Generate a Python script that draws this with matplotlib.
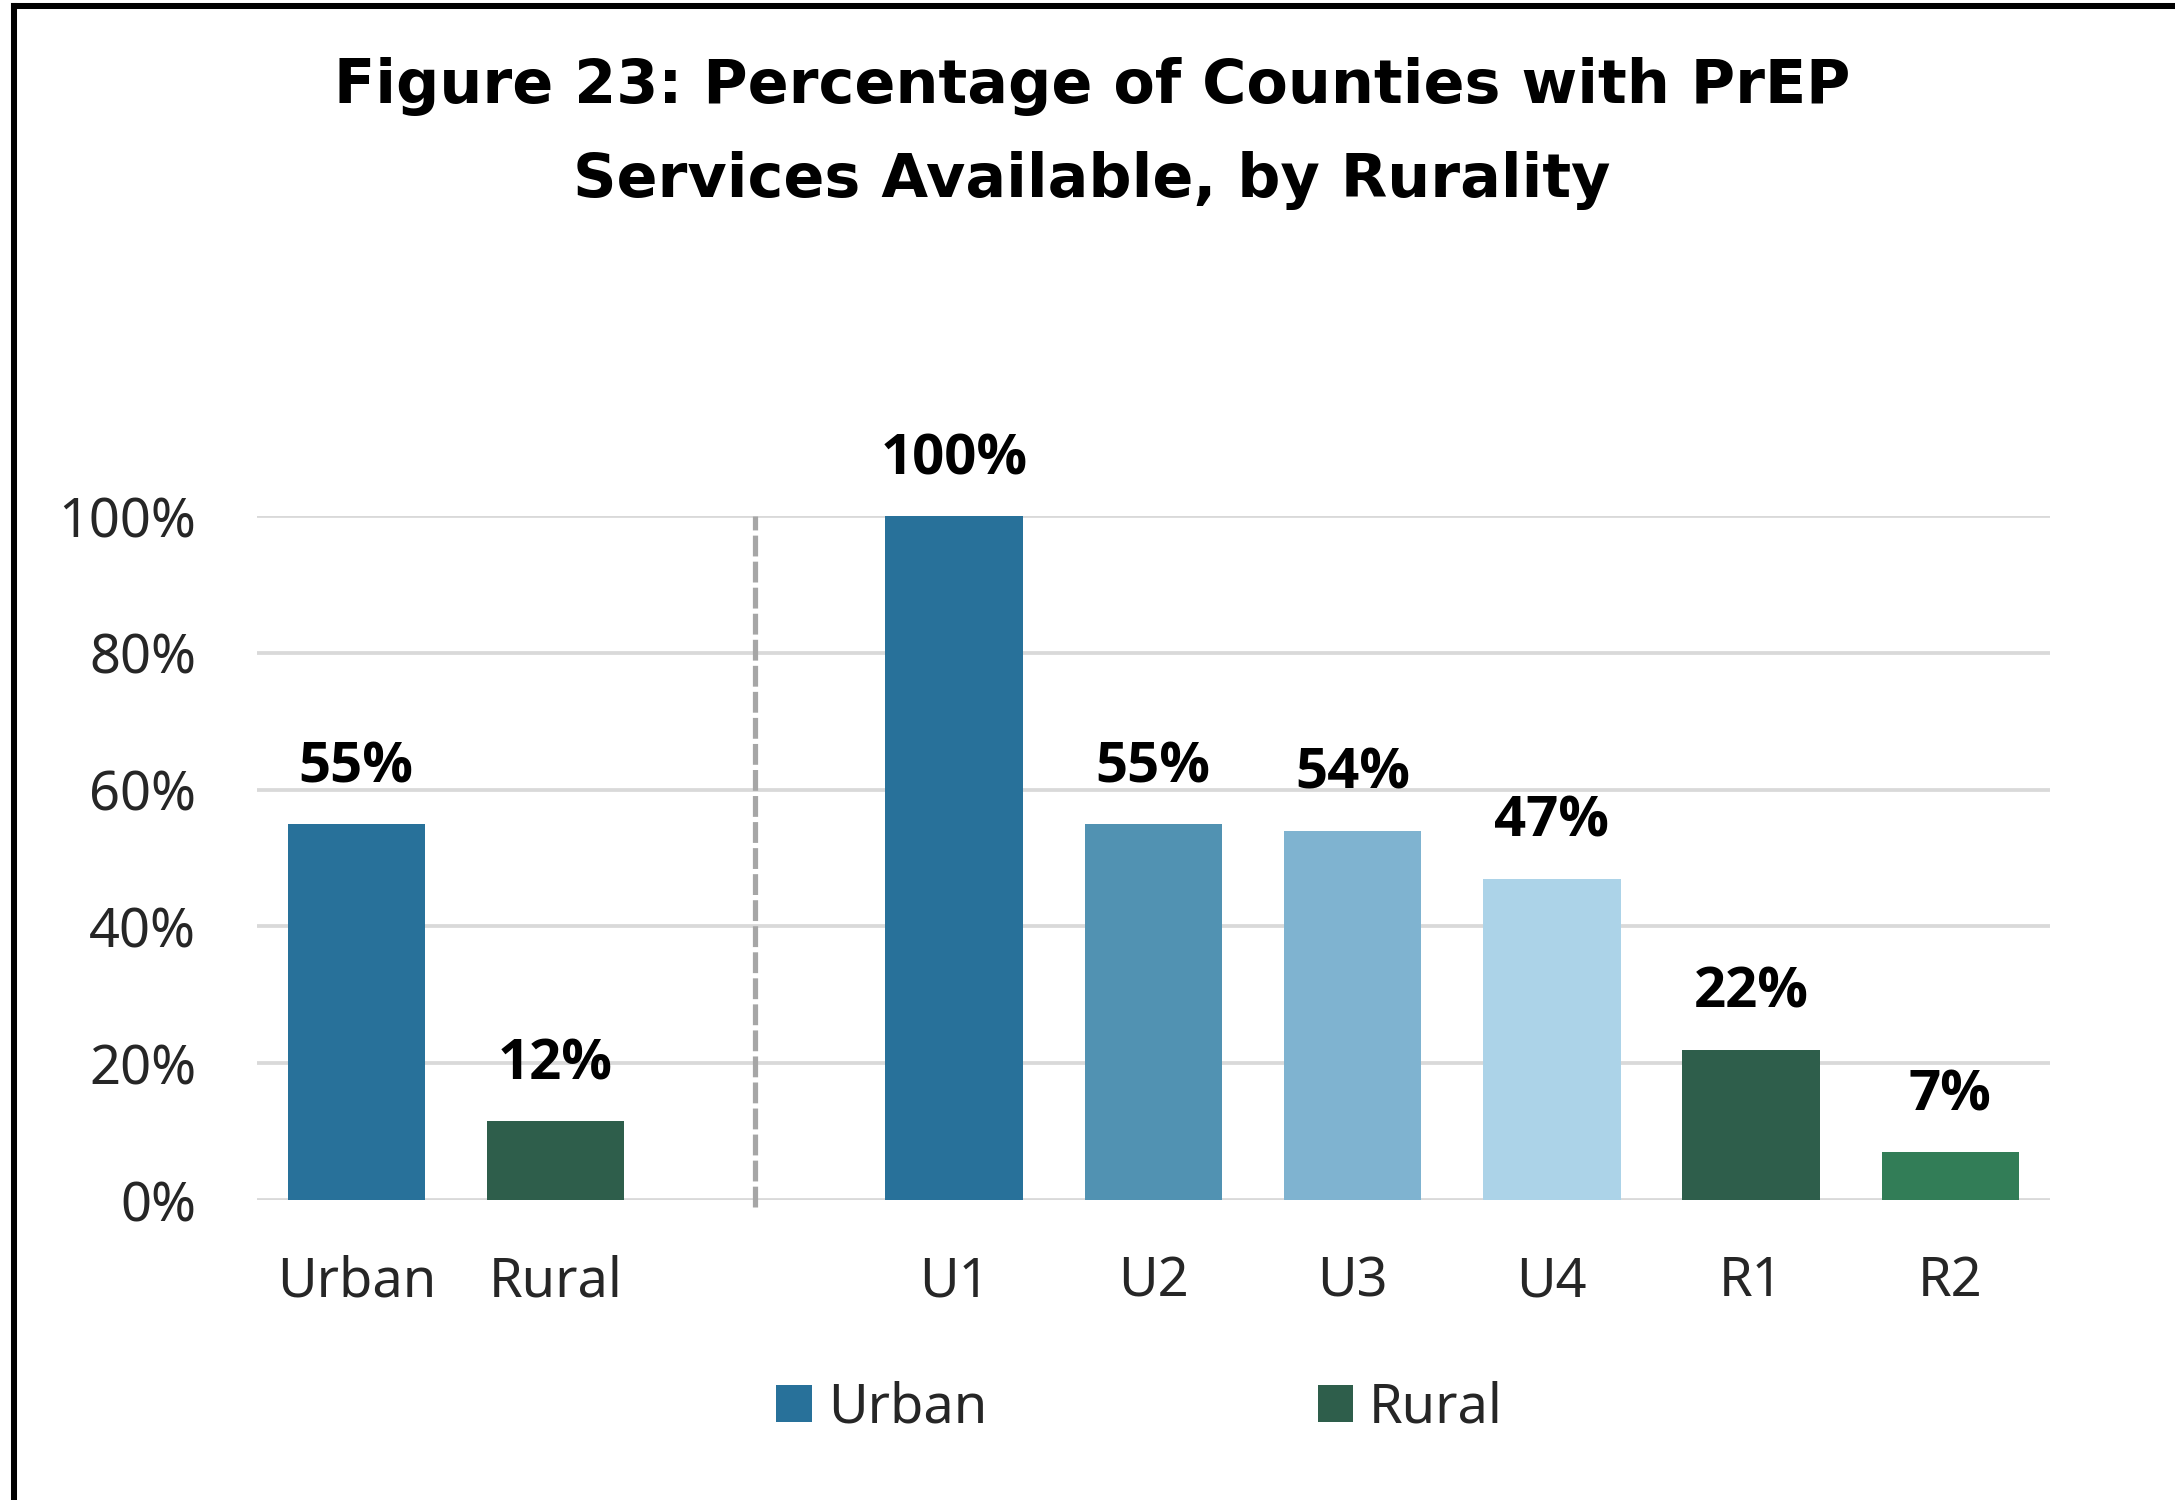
#!/usr/bin/env python3
"""Figure 23: PrEP services by rurality -- recreated bar chart."""

import matplotlib
matplotlib.use("Agg")
import matplotlib.pyplot as plt
from matplotlib.lines import Line2D
from matplotlib.patches import Patch

# dati
categories = ['Urban', 'Rural', 'U1', 'U2', 'U3', 'U4', 'R1', 'R2']
values = [55, 11.5, 100, 55, 54, 47, 22, 7]
labels = ['55%', '12%', '100%', '55%', '54%', '47%', '22%', '7%']
group_sizes = [2, 6]          # Urban/Rural | sottocategorie
colors = ['#28719A', '#2E5E4B', '#28719A', '#5192B2', '#7FB3D0',
          '#ACD3E8', '#2E5E4B', '#327D57']
yticks = [0, 20, 40, 60, 80, 100]
legend_labels = ['Urban', 'Rural']
legend_colors = ['#28719A', '#2E5E4B']

FONT = 'Noto Sans'
BOLD_FONT = 'Open Sans'
TXT = '#262626'

# posizioni: uno slot vuoto tra i due gruppi
positions = list(range(group_sizes[0])) + \
    list(range(group_sizes[0] + 1, group_sizes[0] + 1 + group_sizes[1]))
gap_x = group_sizes[0]


def main():
    fig = plt.figure(figsize=(14.5, 10), dpi=150)
    ax = fig.add_axes([0.118, 0.2, 0.8245, 0.456])

    ax.bar(positions, values, width=0.69, color=colors, zorder=3)
    for x, v, lab in zip(positions, values, labels):
        ax.annotate(lab, (x, v), xytext=(0, 20), textcoords='offset points',
                    ha='center', va='baseline', fontsize=27,
                    fontweight='bold', family=BOLD_FONT, color='black')

    ax.set_xlim(-0.5, positions[-1] + 0.5)
    ax.set_ylim(0, 100)
    ax.set_yticks(yticks)
    ax.set_yticklabels([f"{t}%" for t in yticks])
    ax.set_xticks(positions)
    ax.set_xticklabels(categories)
    ax.tick_params(axis='both', length=0, labelsize=26, colors=TXT)
    ax.tick_params(axis='y', pad=29)
    ax.tick_params(axis='x', pad=26)
    for t in ax.get_xticklabels() + ax.get_yticklabels():
        t.set_family(FONT)

    ax.grid(axis='y', color='#D9D9D9', linewidth=1.8, zorder=0)
    ax.set_axisbelow(True)
    for s in ax.spines.values():
        s.set_visible(False)

    # separatore tratteggiato tra i gruppi
    ax.plot([gap_x, gap_x], [-1, yticks[-1]], color='#A6A6A6', lw=2.5,
            linestyle=(0, (4, 1)), clip_on=False, zorder=2)

    # titolo
    title_kw = dict(ha='center', va='center', fontsize=29, fontweight='bold',
                    family='DejaVu Sans', color='black')
    fig.text(0.502, 1 - 86 / 1500,
             "Figure 23: Percentage of Counties with PrEP", **title_kw)
    fig.text(0.502, 1 - 180 / 1500,
             "Services Available, by Rurality", **title_kw)

    # legenda
    handles = [Patch(facecolor=c, edgecolor='none') for c in legend_colors]
    fig.legend(handles, legend_labels, loc='center',
               bbox_to_anchor=(0.524, 1 - 1408 / 1500), ncol=2,
               frameon=False, handlelength=0.65, handleheight=0.65,
               handletextpad=0.3, columnspacing=6.1,
               prop={'family': FONT, 'size': 26}, labelcolor=TXT)

    # cornice (solo alto e sinistra)
    fig.add_artist(Line2D([14 / 2175, 1], [1 - 6 / 1500, 1 - 6 / 1500],
                          color='black', lw=2.9, transform=fig.transFigure))
    fig.add_artist(Line2D([14 / 2175, 14 / 2175], [0, 1 - 6 / 1500],
                          color='black', lw=2.9, transform=fig.transFigure))

    fig.savefig("out.png", dpi=150, facecolor='white')


if __name__ == "__main__":
    main()
